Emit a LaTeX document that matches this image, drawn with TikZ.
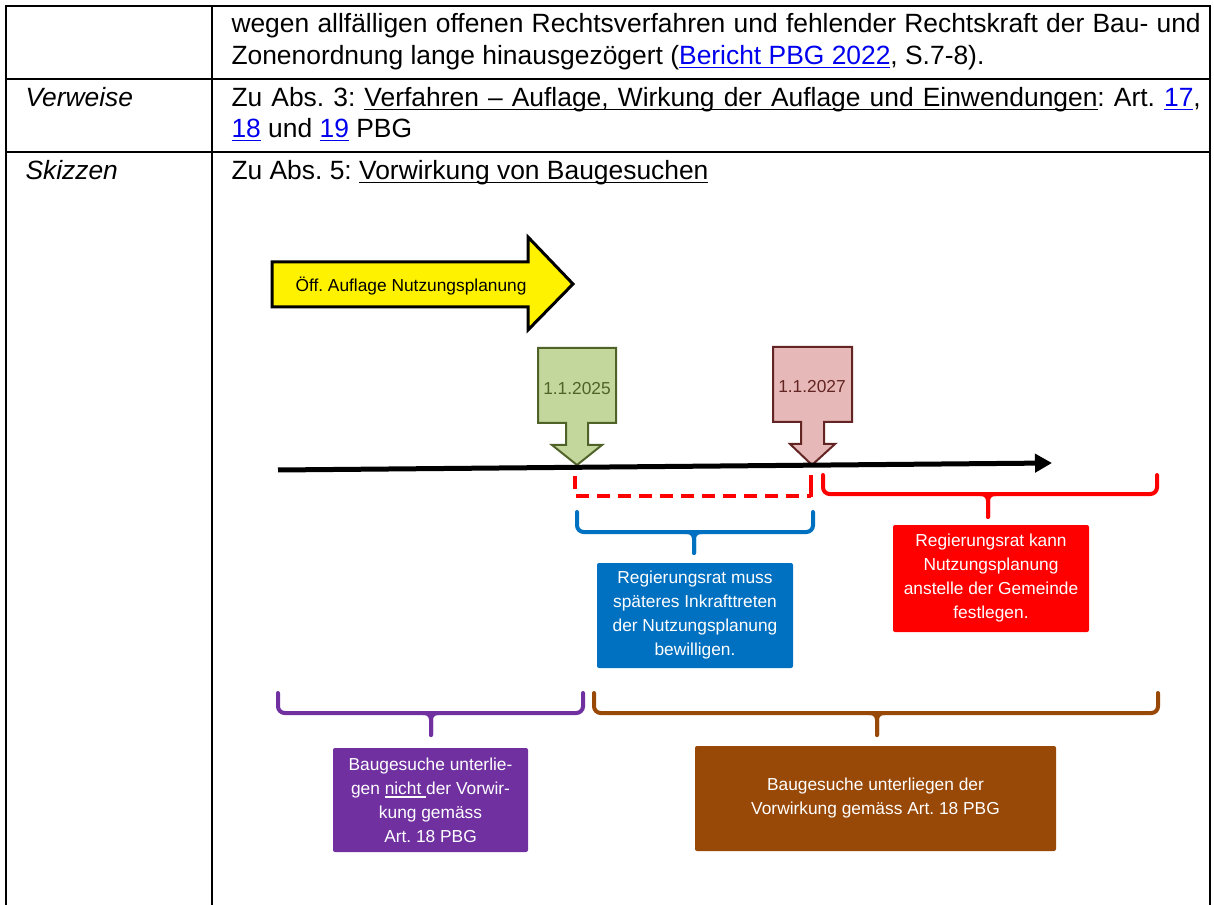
\documentclass[tikz,border=0pt]{standalone}
\usepackage{fontspec}
\setmainfont{Liberation Sans}
\usetikzlibrary{arrows.meta}
\frenchspacing

\definecolor{linkblue}{RGB}{0,0,238}
\definecolor{dategreen}{RGB}{195,214,155}
\definecolor{dategreenline}{RGB}{79,98,40}
\definecolor{datepink}{RGB}{230,185,184}
\definecolor{datepinkline}{RGB}{99,37,35}
\definecolor{rrblue}{RGB}{0,112,192}
\definecolor{rrred}{RGB}{255,0,0}
\definecolor{bgpurple}{RGB}{112,48,160}
\definecolor{bgbrown}{RGB}{152,72,7}

% underlined word and underlined (stretchable) space
\newcommand{\undl}[1]{\setbox0\hbox{#1}\rlap{\rule[-2.6pt]{\wd0}{1.1pt}}\box0}
\newcommand{\ulsp}{\leaders\vrule height -1.5pt depth 2.6pt\hskip\fontdimen2\font plus\fontdimen3\font minus\fontdimen4\font\relax}

\tikzset{every picture/.style={line width=0.75pt}}
\tikzset{
  tabline/.style={line width=1.5pt},
  tabtext/.style={anchor=base west, inner sep=0pt, font=\fontsize{19.8}{23}\selectfont},
  brace/.style={line width=3pt, rounded corners=5pt, line cap=round},
  infobox/.style={rounded corners=1.5pt, text=white, align=center, inner sep=0pt, font=\fontsize{13}{18}\selectfont},
  datebox/.style={line width=1.5pt, line join=miter},
}

\begin{document}
\begin{tikzpicture}[x=0.75pt,y=0.75pt,yscale=-1,xscale=1]
\useasboundingbox (0,0) rectangle (1214,905);
% table frame
\draw[tabline] (5.5,905) -- (5.5,6) -- (1210,6) -- (1210,905);
\draw[tabline] (212,6) -- (212,905);
\draw[tabline] (5.5,79.5) -- (1210,79.5);
\draw[tabline] (5.5,152.5) -- (1210,152.5);
% table texts
\node[tabtext] (r1a) at (231,33) {\makebox[727pt][s]{wegen allfälligen offenen Rechtsverfahren und fehlender Rechtskraft der Bau- und}};
\node[tabtext] (r1b) at (231,65) {Zonenordnung lange hinausgezögert ({\color{linkblue}\undl{Bericht}\ulsp\undl{PBG}\ulsp\undl{2022}}, S.7-8).};
\node[tabtext] (lab2) at (25,107) {\itshape Verweise};
\node[tabtext] (r2a) at (231,107) {\makebox[727pt][s]{Zu Abs. 3: \undl{Verfahren}\ulsp\undl{–}\ulsp\undl{Auflage,}\ulsp\undl{Wirkung}\ulsp\undl{der}\ulsp\undl{Auflage}\ulsp\undl{und}\ulsp\undl{Einwendungen}: Art. {\color{linkblue}\undl{17}},}};
\node[tabtext] (r2b) at (231,138) {{\color{linkblue}\undl{18}} und {\color{linkblue}\undl{19}} PBG};
\node[tabtext] (lab3) at (25,180) {\itshape Skizzen};
\node[tabtext] (r3a) at (231,180) {Zu Abs. 5: \undl{Vorwirkung}\ulsp\undl{von}\ulsp\undl{Baugesuchen}};

% yellow arrow
\draw[line width=2.25pt, line join=miter, fill=yellow] (272,262) -- (528,262) -- (528,237) -- (573,284) -- (528,330) -- (528,307) -- (272,307) -- cycle;
\node[inner sep=0pt, font=\fontsize{13}{18}\selectfont] (auflage) at (411,286) {Öff. Auflage Nutzungsplanung};

% date markers
\draw[datebox, draw=dategreenline, fill=dategreen] (538,348) -- (616,348) -- (616,423) -- (588,423) -- (588,445) -- (602,445) -- (577,465) -- (552,445) -- (566,445) -- (566,423) -- (538,423) -- cycle;
\node[inner sep=0pt, text=dategreenline, font=\fontsize{13}{18}\selectfont] (d2025) at (577,389) {1.1.2025};
\draw[datebox, draw=datepinkline, fill=datepink] (773,347) -- (852,347) -- (852,422) -- (824,422) -- (824,444) -- (835,444) -- (812,465) -- (790,444) -- (801,444) -- (801,422) -- (773,422) -- cycle;
\node[inner sep=0pt, text=datepinkline, font=\fontsize{13}{18}\selectfont] (d2027) at (812,387) {1.1.2027};

% time axis
\coordinate (t0) at (278,470);
\coordinate (t1) at (1052,463);
\draw[line width=3.75pt, -{Triangle[length=12.75pt,width=13.5pt]}] (t0) -- (t1);

% red dashed bracket
\draw[rrred, line width=3pt, dash pattern=on 9.75pt off 6pt] (575,476) -- (575,496) -- (811,496);
\draw[rrred, line width=3pt] (811,475) -- (811,497);

% braces
\draw[brace, rrred] (823,475) -- (823,494) -- (1157,494) -- (1157,475);
\draw[brace, rrred] (980,494) -- (988,494) -- (988,517);
\draw[brace, rrred] (996,494) -- (988,494) -- (988,517);
\draw[brace, rrblue] (577,512) -- (577,532) -- (813,532) -- (813,512);
\draw[brace, rrblue] (686,532) -- (694,532) -- (694,553);
\draw[brace, rrblue] (702,532) -- (694,532) -- (694,553);
\draw[brace, bgpurple] (278,693) -- (278,713) -- (583,713) -- (583,693);
\draw[brace, bgpurple] (423,713) -- (431,713) -- (431,735);
\draw[brace, bgpurple] (439,713) -- (431,713) -- (431,735);
\draw[brace, bgbrown] (594,693) -- (594,713) -- (1158,713) -- (1158,693);
\draw[brace, bgbrown] (869,713) -- (877,713) -- (877,735);
\draw[brace, bgbrown] (885,713) -- (877,713) -- (877,735);

% boxes
\node[infobox, fill=rrblue, minimum width=147pt, minimum height=78.75pt] (muss) at (695,615.5) {Regierungsrat muss\\späteres Inkrafttreten\\der Nutzungsplanung\\bewilligen.};
\node[infobox, fill=rrred, minimum width=147pt, minimum height=80.25pt] (kann) at (991,578.5) {Regierungsrat kann\\Nutzungsplanung\\anstelle der Gemeinde\\festlegen.};
\node[infobox, fill=bgpurple, minimum width=146.25pt, minimum height=78pt] (nicht) at (430.5,800) {Baugesuche unterlie-\\gen \undl{nicht }der Vorwir-\\kung gemäss\\Art. 18 PBG};
\node[infobox, fill=bgbrown, minimum width=270.75pt, minimum height=78.75pt] (vorw) at (875.5,798.5) {Baugesuche unterliegen der\\Vorwirkung gemäss Art. 18 PBG};
\end{tikzpicture}
\end{document}
